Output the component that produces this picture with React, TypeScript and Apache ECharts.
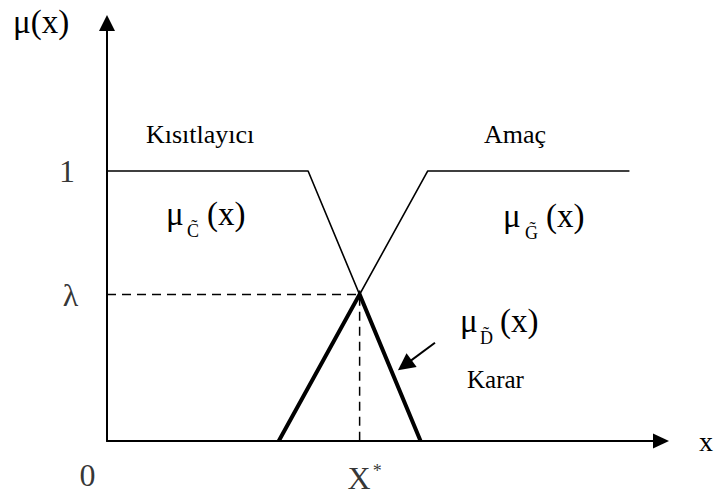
import React, { useEffect, useRef } from "react";
import * as echarts from "echarts";

const FONT = "'Liberation Serif', 'Times New Roman', serif";

// Membership function break points (x in arbitrary units 0..10, μ in 0..1)
const constraintX = [0, 3.63, 5.66];
const constraintY = [1, 1, 0];
const goalX = [3.1, 5.79, 9.43];
const goalY = [0, 1, 1];
const lambdaValue = 0.543;
const xStar = 4.56;
const decisionX = [3.1, xStar, 5.66];
const decisionY = [0, lambdaValue, 0];

// Tick labels
const yTickValues = [1, lambdaValue];
const yTickLabels = ["1", "λ"];
const xTickValues = [0, xStar];
const xTickLabels = ["0", "X*"];

// Annotation arrow pointing at the decision function
const arrowFrom = [5.92, 0.364];
const arrowTo = [5.375, 0.281];

const zip = (xs: number[], ys: number[]) => xs.map((x, i) => [x, ys[i]]);

const txt = (x: number, y: number, text: string, size: number, align = "left") => ({
  type: "text",
  x,
  y,
  silent: true,
  style: { text, font: `${size}px ${FONT}`, fill: "#000", align, verticalAlign: "middle" },
});

function muLabel(left: number, pc: number, sub: string, subDx: number, parDx: number) {
  return [
    txt(left, pc - 2.7, "μ", 33),
    txt(left + subDx, pc + 14, sub + "\u0303", 18),
    txt(left + parDx, pc - 2.7, "(x)", 33),
  ];
}

export default function App() {
  const ref = useRef<HTMLDivElement>(null);
  useEffect(() => {
    if (!ref.current) return;
    const chart = echarts.init(ref.current, null, { renderer: "svg" });
    const black = "#000";
    const lineBase = { type: "line", symbol: "none", clip: false, silent: true, z: 3 };
    const tickData: any[] = [];
    const yOffsets = [[-40, 0], [-36.5, 1]];
    yTickValues.forEach((v, i) => {
      tickData.push({ value: [0, v], label: { formatter: yTickLabels[i], offset: yOffsets[i] } });
    });
    const xOffsets = [[-19.5, 33.5], [5, 37]];
    xTickValues.forEach((v, i) => {
      const lbl = xTickLabels[i];
      const fmt = lbl.includes("*") ? "{b|" + lbl.replace("*", "") + "}{s|*}" : lbl;
      tickData.push({ value: [v, 0], label: { formatter: fmt, offset: xOffsets[i] } });
    });

    chart.setOption({
      animation: false,
      backgroundColor: "#fff",
      grid: { left: 107, right: 52, top: 23, bottom: 59 },
      xAxis: {
        type: "value",
        min: 0,
        max: 10,
        splitLine: { show: false },
        axisTick: { show: false },
        axisLabel: { show: false },
        axisLine: { show: true, symbol: ["none", "triangle"], symbolSize: [15, 16], lineStyle: { color: black, width: 2 } },
        name: "x",
        nameLocation: "end",
        nameGap: 38,
        nameTextStyle: { fontSize: 28, fontFamily: FONT, color: black },
      },
      yAxis: {
        type: "value",
        min: 0,
        max: 1.548,
        splitLine: { show: false },
        axisTick: { show: false },
        axisLabel: { show: false },
        axisLine: { show: true, onZero: false, symbol: ["none", "triangle"], symbolSize: [16, 16], lineStyle: { color: black, width: 2 } },
      },
      series: [
        { ...lineBase, name: "Kısıtlayıcı", data: zip(constraintX, constraintY), lineStyle: { color: black, width: 1.6 } },
        { ...lineBase, name: "Amaç", data: zip(goalX, goalY), lineStyle: { color: black, width: 1.6 } },
        {
          ...lineBase,
          name: "λ",
          data: [[0, lambdaValue], [xStar, lambdaValue], [xStar, 0]],
          lineStyle: { color: black, width: 1.5, type: [9, 6] },
        },
        {
          ...lineBase,
          name: "Karar",
          z: 4,
          data: zip(decisionX, decisionY),
          lineStyle: { color: black, width: 4, join: "miter" },
          markLine: {
            silent: true,
            symbol: ["none", "triangle"],
            symbolSize: 17,
            label: { show: false },
            lineStyle: { color: black, width: 2, type: "solid" },
            data: [[{ coord: arrowFrom }, { coord: arrowTo }]],
          },
        },
        {
          type: "scatter",
          name: "ticks",
          symbolSize: 0,
          silent: true,
          clip: false,
          data: tickData,
          label: {
            show: true,
            position: "inside",
            color: black,
            fontSize: 32,
            fontFamily: FONT,
            rich: {
              b: { fontSize: 32, fontFamily: FONT, color: black },
              s: { fontSize: 18, fontFamily: FONT, color: black, verticalAlign: "top", padding: [0, 0, 0, 2] },
            },
          },
        },
      ],
      graphic: [
        txt(13, 22, "μ(x)", 33),
        txt(146, 134.6, "Kısıtlayıcı", 26),
        txt(484, 134.6, "Amaç", 26),
        txt(467, 379.6, "Karar", 25),
        ...muLabel(166, 217, "C", 21, 41),
        ...muLabel(503, 218.5, "G", 22, 43),
        ...muLabel(460, 323.5, "D", 20, 40),
      ],
    });
    return () => chart.dispose();
  }, []);
  return <div ref={ref} style={{ position: "fixed", left: 0, top: 0, width: 716, height: 500 }} />;
}
